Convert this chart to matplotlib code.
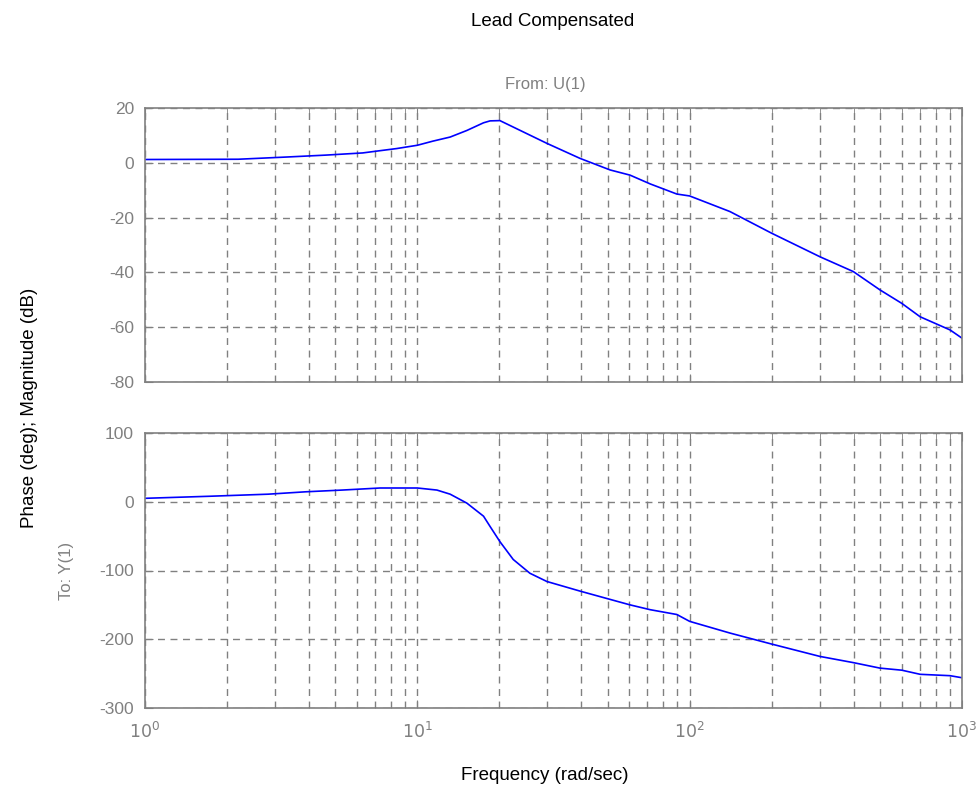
import matplotlib
matplotlib.use("Agg")
import matplotlib.pyplot as plt
from matplotlib.ticker import LogLocator, NullFormatter, FixedLocator

plt.rcParams['font.family'] = ['Liberation Sans', 'DejaVu Sans']

# Frequency (rad/sec) and magnitude (dB)
mag_freq = [1.0, 2.2, 3.3, 4.6, 6.3, 7.4, 8.4, 10.0, 11.4, 13.2, 15.2, 17.5, 18.5, 20.1,
            29.9, 39.6, 51.0, 60.4, 71.6, 89.7, 100.0, 140.6, 200.0, 301.0, 399.0,
            500.0, 601.0, 702.0, 904.0, 1000.0]
mag_db = [1.2, 1.3, 2.1, 2.8, 3.6, 4.5, 5.2, 6.4, 7.9, 9.4, 11.8, 14.6, 15.3, 15.4,
          7.1, 1.6, -2.6, -4.5, -7.7, -11.4, -12.1, -17.8, -25.7, -34.3, -39.7,
          -46.4, -51.3, -56.2, -61.0, -64.0]

# Frequency (rad/sec) and phase (deg)
ph_freq = [1.0, 1.73, 2.83, 3.9, 5.3, 7.3, 10.0, 11.8, 13.2, 15.2, 17.5, 18.5, 20.1,
           22.5, 25.9, 29.9, 39.6, 51.0, 60.4, 71.6, 89.7, 100.0, 140.6, 200.0,
           301.0, 399.0, 500.0, 601.0, 702.0, 904.0, 1000.0]
ph_deg = [5, 8, 11, 14.5, 17, 20, 20, 17, 11, -2, -21, -36, -58,
          -84, -104, -116, -130, -142, -150, -157, -164, -174, -191, -207,
          -225, -234, -242, -245, -251, -253, -256]

mag_yticks = [20, 0, -20, -40, -60, -80]
ph_yticks = [100, 0, -100, -200, -300]
xtick_vals = [1, 10, 100, 1000]
xtick_labels = ['$10^0$', '$10^1$', '$10^2$', '$10^3$']

W, H = 977, 807
fig = plt.figure(figsize=(W / 100, H / 100), dpi=100)

gray = '#808080'
left, right = 145 / W, 962 / W
ax1 = fig.add_axes([left, 1 - 382 / H, right - left, 274 / H])
ax2 = fig.add_axes([left, 1 - 708 / H, right - left, 275 / H])

for ax, f, v, yt in [(ax1, mag_freq, mag_db, mag_yticks), (ax2, ph_freq, ph_deg, ph_yticks)]:
    ax.semilogx(f, v, color='#0000FF', lw=1.2)
    ax.set_xlim(1, 1000)
    ax.set_ylim(min(yt), max(yt))
    ax.yaxis.set_major_locator(FixedLocator(yt))
    ax.set_yticklabels([str(t) for t in yt])
    ax.xaxis.set_major_locator(FixedLocator(xtick_vals))
    ax.xaxis.set_minor_locator(LogLocator(base=10, subs=range(2, 10)))
    ax.xaxis.set_minor_formatter(NullFormatter())
    ax.grid(True, which='major', axis='both', color=gray, ls=(0, (5, 4)), lw=1.0)
    ax.grid(True, which='minor', axis='x', color=gray, ls=(0, (5, 4)), lw=1.0)
    for s in ax.spines.values():
        s.set_color(gray)
        s.set_linewidth(1.2)
    ax.tick_params(which='both', direction='in', colors=gray, labelcolor=gray,
                   labelsize=12.5, top=True, right=False)
    ax.tick_params(which='major', length=6)
    ax.tick_params(which='minor', length=4)
    ax.tick_params(axis='y', pad=8)
    ax.tick_params(axis='x', pad=9)

ax1.set_xticklabels([])
ax2.set_xticklabels(xtick_labels)

fig.text(553 / W, 1 - 22 / H, 'Lead Compensated', ha='center', va='center', fontsize=13.5, color='black')
fig.text(545 / W, 1 - 84 / H, 'From: U(1)', ha='center', va='center', fontsize=12, color=gray)
fig.text(30 / W, 1 - 408 / H, 'Phase (deg); Magnitude (dB)', ha='center', va='center',
         rotation=90, fontsize=13.5, color='black')
fig.text(67 / W, 1 - 571 / H, 'To: Y(1)', ha='center', va='center', rotation=90, fontsize=12, color=gray)
fig.text(545 / W, 1 - 776 / H, 'Frequency (rad/sec)', ha='center', va='center', fontsize=13.5, color='black')

fig.savefig('out.png', dpi=100, facecolor='white')
